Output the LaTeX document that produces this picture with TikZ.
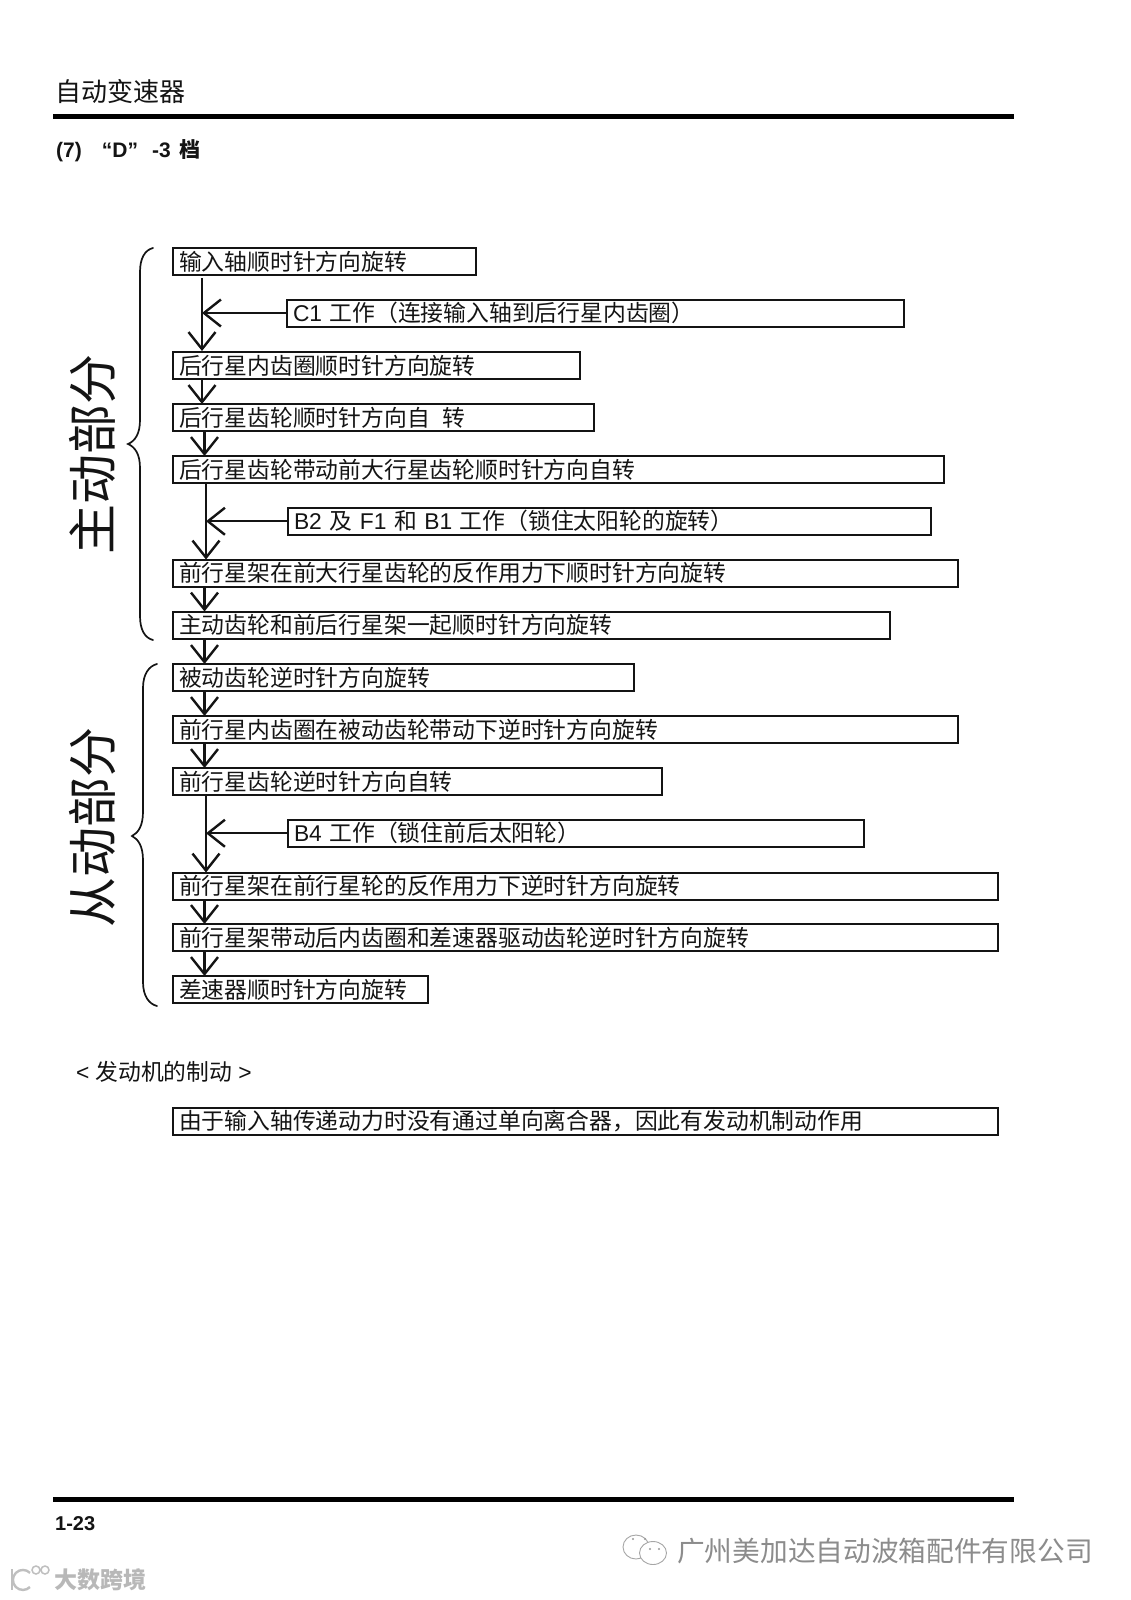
\documentclass[tikz,border=0pt]{standalone}
\usepackage{fontspec}
\setmainfont{Noto Sans CJK SC}
\newfontfamily\latinfont{Liberation Sans}
\usetikzlibrary{arrows.meta,calc}
\definecolor{ink}{gray}{0.08}
\tikzset{
  x=1pt,y=-1pt,
  flowbox/.style={draw=ink,line width=2pt,anchor=north west,inner xsep=6pt,inner ysep=0pt,outer sep=0pt,align=left,font=\fontsize{22.8}{24}\selectfont,text=ink},
  flowarrow/.style={draw=ink,line width=2.4pt,-{Straight Barb[length=17pt,width=27pt,line width=2.4pt]}},
  brace/.style={draw=ink,line width=1.7pt,line cap=round},
  rule/.style={draw=black,line width=5pt},
  sideword/.style={rotate=90,font=\fontsize{50}{52}\selectfont,text=ink},
  wmark/.style={anchor=west,inner sep=0pt},
  wicon/.style={draw=black!35,line width=0.9pt,fill=white},
  logo/.style={draw=black!25,line width=2.4pt},
}
\newcommand{\flowbx}[6]{\pgfmathsetmacro{\bw}{#4-#2-12}\pgfmathsetmacro{\bh}{#5-#3}\node[flowbox,text width=\bw pt,minimum height=\bh pt] (#1) at (#2,#3) {\raisebox{1.2pt}{#6}};}
\begin{document}
\begin{tikzpicture}
\useasboundingbox[fill=white] (0,0) rectangle (1131,1600);
% header
\node[anchor=west,inner sep=0pt,font=\fontsize{26}{28}\selectfont,text=ink] (hdr) at (55,92) {自动变速器};
\coordinate (hl) at (53,116.5); \coordinate (hr) at (1014,116.5);
\draw[rule] (hl) -- (hr);
\node[anchor=west,inner sep=0pt,font=\fontsize{21}{24}\bfseries\selectfont,text=ink] (ttl) at (56,151) {{\latinfont (7)\hspace{20pt}“D”\hspace{14pt}-3\hspace{9pt}}档};
% boxes
\flowbx{a1}{173}{248}{475.5}{275}{输入轴顺时针方向旋转}
\flowbx{c1}{287}{299.5}{904}{326.5}{{\latinfont C1} 工作（连接输入轴到后行星内齿圈）}
\flowbx{a2}{173}{352}{580}{379}{后行星内齿圈顺时针方向旋转}
\flowbx{a3}{173}{404}{594}{431}{后行星齿轮顺时针方向自\hspace{13pt}转}
\flowbx{a4}{173}{456}{944}{483}{后行星齿轮带动前大行星齿轮顺时针方向自转}
\flowbx{b2}{288}{507.5}{931}{535}{{\latinfont B2} 及 {\latinfont F1} 和 {\latinfont B1} 工作（锁住太阳轮的旋转）}
\flowbx{a5}{173}{559.5}{958}{587}{前行星架在前大行星齿轮的反作用力下顺时针方向旋转}
\flowbx{a6}{173}{611.5}{890}{639}{主动齿轮和前后行星架一起顺时针方向旋转}
\flowbx{a7}{173}{664}{634}{691}{被动齿轮逆时针方向旋转}
\flowbx{a8}{173}{716}{958}{743}{前行星内齿圈在被动齿轮带动下逆时针方向旋转}
\flowbx{a9}{173}{768}{661.5}{795}{前行星齿轮逆时针方向自转}
\flowbx{b4}{288}{819.5}{864}{847}{{\latinfont B4} 工作（锁住前后太阳轮）}
\flowbx{a10}{173}{872.5}{998}{899.5}{前行星架在前行星轮的反作用力下逆时针方向旋转}
\flowbx{a11}{173}{924}{998}{951}{前行星架带动后内齿圈和差速器驱动齿轮逆时针方向旋转}
\flowbx{a12}{173}{976}{428}{1003}{差速器顺时针方向旋转}
\node[anchor=west,inner sep=0pt,font=\fontsize{22.8}{24}\selectfont,text=ink] (eng) at (76,1072) {{\latinfont <}\hspace{6pt}发动机的制动\hspace{6pt}{\latinfont >}};
\flowbx{a13}{173}{1107.5}{998}{1135}{由于输入轴传递动力时没有通过单向离合器，因此有发动机制动作用}
% arrow columns
\coordinate (p1) at (202,0); \coordinate (p3) at (204.5,0); \coordinate (p4) at (206,0);
\draw[flowarrow] ($(a1.south -| p1)+(0,3)$) -- ($(a2.north -| p1)+(0,-1)$);
\draw[flowarrow] (c1.west) -- (c1.west -| p1);
\draw[flowarrow] (a2.south -| p1) -- (a3.north -| p1);
\draw[flowarrow] (a3.south -| p3) -- (a4.north -| p3);
\draw[flowarrow] (a4.south -| p4) -- (a5.north -| p4);
\draw[flowarrow] (b2.west) -- (b2.west -| p4);
\draw[flowarrow] (a5.south -| p3) -- (a6.north -| p3);
\draw[flowarrow] (a6.south -| p3) -- (a7.north -| p3);
\draw[flowarrow] (a7.south -| p3) -- (a8.north -| p3);
\draw[flowarrow] (a8.south -| p3) -- (a9.north -| p3);
\draw[flowarrow] (a9.south -| p4) -- (a10.north -| p4);
\draw[flowarrow] (b4.west) -- (b4.west -| p4);
\draw[flowarrow] (a10.south -| p3) -- (a11.north -| p3);
\draw[flowarrow] (a11.south -| p3) -- (a12.north -| p3);
% braces
\draw[brace] (153,248) .. controls (145,250) and (140,258) .. (140,272) -- (140,420) .. controls (140,434) and (135,441) .. (128,444) .. controls (135,447) and (140,454) .. (140,468) -- (140,616) .. controls (140,630) and (145,638) .. (153,640);
\draw[brace] (157,664) .. controls (149,666) and (143,674) .. (143,688) -- (143,812) .. controls (143,826) and (138,833) .. (132,836) .. controls (138,839) and (143,846) .. (143,860) -- (143,982) .. controls (143,996) and (149,1004) .. (157,1006);
\node[sideword] (w1) at (92,454) {主动部分};
\node[sideword] (w2) at (92,827) {从动部分};
% footer
\coordinate (fl) at (53,1499); \coordinate (fr) at (1014,1499);
\draw[rule] (fl) -- (fr);
\node[anchor=west,inner sep=0pt,font=\latinfont\fontsize{20}{22}\bfseries\selectfont,text=ink] (pg) at (55,1524) {1-23};
% watermarks
\draw[wicon] (636,1547) ellipse (13 and 12);
\draw[wicon] (653,1553) ellipse (13.5 and 11.5);
\fill[black!40] (633,1539) circle (1.2) (645,1539) circle (1.2) (650,1549) circle (1.2) (659,1549) circle (1.2);
\node[wmark,text=black!45,font=\fontsize{27.7}{30}\selectfont] (wm1) at (677,1551) {广州美加达自动波箱配件有限公司};
\draw[logo] (12,1569) -- (12,1590);
\draw[logo] (30,1587) arc[start angle=45,end angle=315,radius=10];
\draw[logo,line width=1.5pt] (36,1570) circle (4) (45,1570) circle (4);
\node[wmark,text=black!28,font=\fontsize{23}{25}\bfseries\selectfont] (wm2) at (54,1580) {大数跨境};
\end{tikzpicture}
\end{document}
